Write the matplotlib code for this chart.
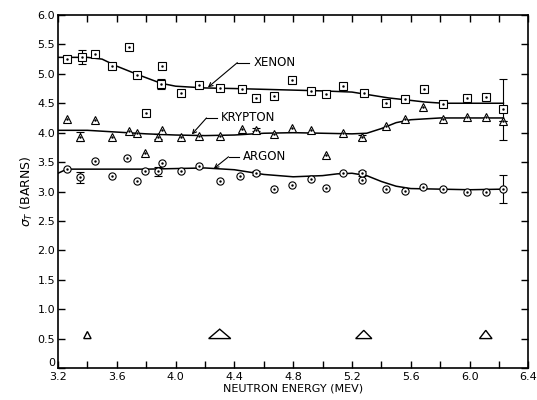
import numpy as np
import matplotlib
matplotlib.use('Agg')
import matplotlib.pyplot as plt
from matplotlib.patches import Polygon

plt.rcParams['font.family'] = ['DejaVu Sans']

# xenon data points (MeV, barns)
xe_x = [3.26, 3.45, 3.57, 3.68, 3.74, 3.80, 3.91, 4.04, 4.16, 4.30, 4.45, 4.55, 4.67,
        4.79, 4.92, 5.02, 5.14, 5.28, 5.43, 5.56, 5.69, 5.82, 5.98, 6.11]
xe_y = [5.25, 5.33, 5.14, 5.46, 4.98, 4.33, 5.14, 4.67, 4.81, 4.76, 4.74, 4.59, 4.63,
        4.89, 4.71, 4.66, 4.80, 4.67, 4.50, 4.57, 4.74, 4.48, 4.59, 4.60]
xe_ex = [3.36, 3.90, 6.23]
xe_ey = [5.29, 4.83, 4.40]
xe_err = [0.12, 0.085, 0.52]
xe_cx = [3.2, 3.4, 3.5, 3.6, 3.75, 3.9, 4.0, 4.2, 4.4, 4.7, 5.0, 5.2, 5.3, 5.45, 5.56, 5.7, 5.82, 6.0, 6.23]
xe_cy = [5.28, 5.28, 5.25, 5.13, 4.98, 4.84, 4.79, 4.76, 4.75, 4.73, 4.71, 4.69, 4.65, 4.59, 4.56, 4.52, 4.50, 4.50, 4.50]

# krypton
kr_x = [3.26, 3.45, 3.57, 3.68, 3.74, 3.79, 3.91, 4.04, 4.16, 4.30, 4.45, 4.67,
        4.79, 4.92, 5.02, 5.14, 5.43, 5.56, 5.68, 5.82, 5.98, 6.11]
kr_y = [4.23, 4.21, 3.92, 4.02, 4.00, 3.66, 4.05, 3.93, 3.95, 3.95, 4.06, 3.98,
        4.08, 4.05, 3.62, 4.00, 4.11, 4.23, 4.43, 4.23, 4.26, 4.26]
kr_ex = [3.35, 3.88, 4.55, 5.27, 6.23]
kr_ey = [3.93, 3.93, 4.05, 3.92, 4.19]
kr_err = [0.08, 0.04, 0.03, 0.04, 0.0]
kr_cx = [3.2, 3.4, 3.6, 3.8, 4.0, 4.2, 4.4, 4.6, 4.8, 5.0, 5.2, 5.3, 5.4, 5.5, 5.6, 5.8, 6.0, 6.23]
kr_cy = [4.04, 4.04, 4.01, 3.98, 3.96, 3.95, 3.96, 3.99, 4.00, 3.99, 3.98, 3.99, 4.07, 4.17, 4.22, 4.25, 4.25, 4.25]

# argon
ar_x = [3.26, 3.45, 3.57, 3.67, 3.74, 3.79, 3.91, 4.04, 4.16, 4.30, 4.44, 4.67,
        4.79, 4.92, 5.02, 5.14, 5.27, 5.43, 5.56, 5.68, 5.82, 5.98, 6.11]
ar_y = [3.38, 3.52, 3.27, 3.57, 3.18, 3.34, 3.48, 3.35, 3.44, 3.17, 3.27, 3.05,
        3.11, 3.21, 3.06, 3.31, 3.20, 3.04, 3.01, 3.07, 3.04, 2.99, 2.99]
ar_ex = [3.35, 3.88, 4.55, 5.27, 6.23]
ar_ey = [3.24, 3.34, 3.31, 3.31, 3.04]
ar_err = [0.09, 0.08, 0.03, 0.04, 0.24]
ar_cx = [3.2, 3.26, 3.4, 3.6, 3.8, 4.0, 4.2, 4.4, 4.5, 4.6, 4.8, 5.0, 5.1, 5.2, 5.3, 5.4, 5.5, 5.6, 5.8, 6.0, 6.23]
ar_cy = [3.31, 3.38, 3.38, 3.38, 3.38, 3.39, 3.40, 3.37, 3.33, 3.29, 3.25, 3.27, 3.30, 3.31, 3.27, 3.17, 3.09, 3.05, 3.04, 3.03, 3.04]

# energy resolution triangles
res_x = [3.40, 4.30, 5.28, 6.11]
res_w = [0.05, 0.15, 0.11, 0.085]
res_h = [0.12, 0.16, 0.14, 0.14]
res_y0 = 0.5

fig = plt.figure(figsize=(5.37, 4.0), dpi=100)
ax = fig.add_axes([0.108, 0.08, 0.876, 0.8825])

def series(xs, ys, exs, eys, errs, cx, cy, marker):
    ax.plot(cx, cy, color='black', lw=1.1, zorder=2)
    ax.plot(xs, ys, ls='none', marker=marker, ms=5.2, mfc='white', mec='black', mew=0.8, zorder=3)
    ax.plot(xs, ys, ls='none', marker='.', ms=1.5, color='black', zorder=4)
    ax.errorbar(exs, eys, yerr=errs, fmt=marker, ms=5.2, mfc='white', mec='black', mew=0.8,
                ecolor='black', elinewidth=0.8, capsize=3, capthick=0.8, zorder=3)
    ax.plot(exs, eys, ls='none', marker='.', ms=1.5, color='black', zorder=4)

series(xe_x, xe_y, xe_ex, xe_ey, xe_err, xe_cx, xe_cy, 's')
series(kr_x, kr_y, kr_ex, kr_ey, kr_err, kr_cx, kr_cy, '^')
series(ar_x, ar_y, ar_ex, ar_ey, ar_err, ar_cx, ar_cy, 'o')

for x, w, h in zip(res_x, res_w, res_h):
    tri = Polygon([[x - w / 2, res_y0], [x + w / 2, res_y0], [x, res_y0 + h]],
                  closed=True, fill=False, ec='black', lw=1.0)
    ax.add_patch(tri)

# labels with leader lines
arrow = dict(arrowstyle='->', color='black', lw=0.8, shrinkA=0, shrinkB=0, mutation_scale=7)
ax.annotate('', xy=(4.22, 4.77), xytext=(4.42, 5.19), arrowprops=arrow)
ax.plot([4.42, 4.50], [5.19, 5.19], color='black', lw=0.8)
ax.text(4.53, 5.19, 'XENON', fontsize=8.5, va='center', ha='left')

ax.annotate('', xy=(4.11, 3.97), xytext=(4.21, 4.25), arrowprops=arrow)
ax.plot([4.21, 4.28], [4.25, 4.25], color='black', lw=0.8)
ax.text(4.31, 4.25, 'KRYPTON', fontsize=8.5, va='center', ha='left')

ax.annotate('', xy=(4.26, 3.39), xytext=(4.36, 3.59), arrowprops=arrow)
ax.plot([4.36, 4.43], [3.59, 3.59], color='black', lw=0.8)
ax.text(4.46, 3.59, 'ARGON', fontsize=8.5, va='center', ha='left')

ax.set_xlim(3.2, 6.4)
ax.set_ylim(0, 6.0)
ax.set_xticks(np.arange(3.2, 6.41, 0.4))
ax.set_xticklabels(['3.2', '3.6', '4.0', '4.4', '4.8', '5.2', '5.6', '6.0', '6.4'])
ax.set_xticks(np.arange(3.4, 6.3, 0.4), minor=True)
ax.set_yticks(np.arange(0, 6.01, 0.5))
ax.set_yticklabels(['0'] + ['%.1f' % v for v in np.arange(0.5, 6.01, 0.5)])
ax.tick_params(which='both', direction='in', top=True, right=True, labelsize=8, width=1.0)
ax.tick_params(which='both', length=5)
ax.tick_params(axis='x', pad=3)
ax.tick_params(axis='y', pad=2)
ax.get_yticklabels()[0].set_va('bottom')
for s in ax.spines.values():
    s.set_linewidth(1.2)

ax.set_xlabel('NEUTRON ENERGY (MEV)', fontsize=8, labelpad=1)
ax.set_ylabel(r'$\sigma_T$ (BARNS)', fontsize=9, labelpad=2)

fig.savefig('out.png', dpi=100)
